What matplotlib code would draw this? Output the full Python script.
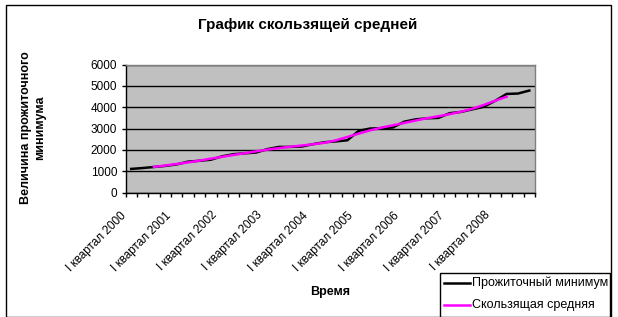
import matplotlib
matplotlib.use('Agg')
import matplotlib.pyplot as plt
import matplotlib.transforms as mtransforms
from matplotlib.patches import Rectangle
from matplotlib.lines import Line2D
import numpy as np

plt.rcParams['font.family'] = ['Liberation Sans', 'DejaVu Sans']

# quarters 2000 Q1 .. 2008 Q4
years = list(range(2000, 2009))
tick_labels = ['I квартал %d' % y for y in years]

minimum = [1110, 1150, 1200, 1250, 1320, 1450, 1490, 1540, 1700, 1800, 1840, 1880,
           2040, 2140, 2140, 2160, 2270, 2360, 2400, 2450, 2890, 3000, 3020, 3050,
           3320, 3430, 3480, 3500, 3720, 3780, 3900, 4020, 4300, 4620, 4640, 4780]

# moving average (quarters 3..34)
moving_avg = [1204, 1268, 1341, 1414, 1498, 1589, 1676, 1763, 1848, 1933, 2013, 2085,
              2149, 2205, 2265, 2334, 2448, 2605, 2763, 2915, 3044, 3151, 3263, 3376,
              3483, 3576, 3673, 3790, 3928, 4105, 4303, 4490]
ma_start = 2

W, H = 618, 317
fig = plt.figure(figsize=(W / 100, H / 100), dpi=100)

# outer chart border
fig.patches.append(Rectangle((6 / W, 0), (611 - 6) / W, (H - 5) / H, transform=fig.transFigure,
                             fill=False, edgecolor='black', linewidth=1.0))

ax = fig.add_axes([125.5 / W, 1 - 192.6 / H, (535 - 125.5) / W, (192.6 - 64.5) / H])
ax.set_facecolor('#c0c0c0')

x = np.arange(len(minimum))
ax.plot(x, minimum, color='black', linewidth=1.8, solid_joinstyle='miter', zorder=3)
x_ma = np.arange(ma_start, ma_start + len(moving_avg))
ax.plot(x_ma, moving_avg, color='#ff00ff', linewidth=1.8, zorder=4)

ax.set_xlim(-0.5, len(minimum) - 0.5)
ax.set_ylim(0, 6000)
ax.set_yticks(range(0, 7000, 1000))
ax.yaxis.grid(True, color='black', linewidth=1.0)
ax.set_axisbelow(True)

for s in ['top', 'right']:
    ax.spines[s].set_color('#808080')
for s in ['left', 'bottom']:
    ax.spines[s].set_color('black')
for s in ax.spines.values():
    s.set_linewidth(1.0)

ax.tick_params(axis='y', direction='out', length=3, width=1, labelsize=8.5, pad=3)

ax.set_xticks(x[::4])
ax.set_xticklabels(tick_labels, rotation=45, ha='right', va='center',
                   rotation_mode='anchor', fontsize=8.5)
ax.set_xticks(np.arange(-0.5, len(minimum)), minor=True)
ax.tick_params(axis='x', which='major', length=0, pad=21 * 72 / 100)
ax.tick_params(axis='x', which='minor', direction='out', length=3, width=1)
offset = mtransforms.ScaledTranslation(-7 / 100, 0, fig.dpi_scale_trans)
for lbl in ax.get_xticklabels():
    lbl.set_transform(lbl.get_transform() + offset)

fig.text(308 / W, 1 - 25 / H, 'График скользящей средней', ha='center', va='center',
         fontsize=11, fontweight='bold')
fig.text(330 / W, 1 - 292 / H, 'Время', ha='center', va='center', fontsize=9, fontweight='bold')
fig.text(33 / W, 1 - 128 / H, 'Величина прожиточного\nминимума', ha='center', va='center',
         rotation=90, fontsize=9, fontweight='bold', linespacing=1.3)

# legend box
fig.patches.append(Rectangle((440 / W, 0), (610 - 440) / W, (H - 273) / H, transform=fig.transFigure,
                             facecolor='white', edgecolor='black', linewidth=1.0, zorder=5))
legend_items = [('Прожиточный минимум', 'black', 283), ('Скользящая средняя', '#ff00ff', 305)]
for name, col, yy in legend_items:
    fig.add_artist(Line2D([444 / W, 470 / W], [1 - yy / H, 1 - yy / H], color=col, linewidth=1.8,
                          transform=fig.transFigure, zorder=6))
    fig.text(472 / W, 1 - yy / H, name, ha='left', va='center', fontsize=9, zorder=6)

fig.savefig('out.png', dpi=100)
